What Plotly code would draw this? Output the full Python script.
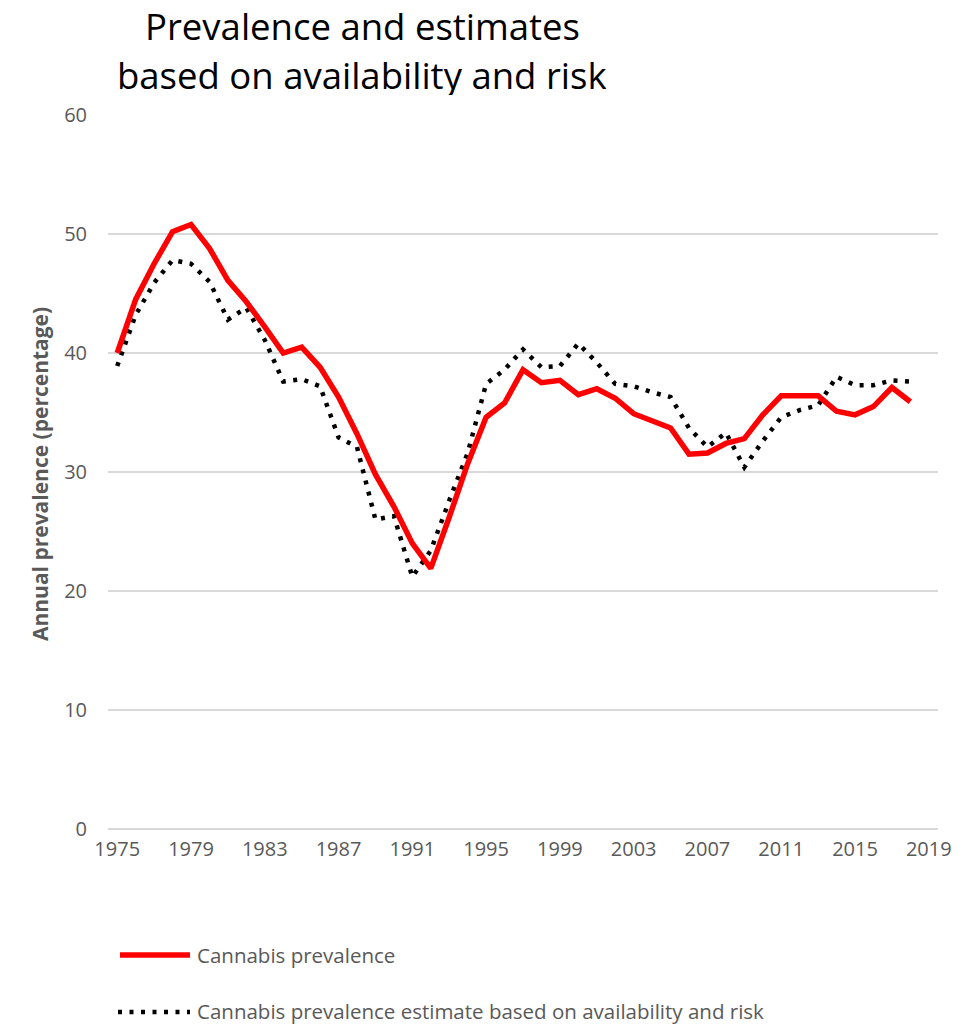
import plotly.graph_objects as go

years = list(range(1975, 2019))
prevalence = [40.0, 44.5, 47.5, 50.2, 50.8, 48.8, 46.1, 44.3, 42.2, 40.0,
              40.5, 38.8, 36.3, 33.2, 29.8, 27.1, 24.0, 21.9, 26.2, 30.7,
              34.6, 35.8, 38.6, 37.5, 37.7, 36.5, 37.0, 36.2, 34.9, 34.3,
              33.7, 31.5, 31.6, 32.4, 32.8, 34.8, 36.4, 36.4, 36.4, 35.1,
              34.8, 35.5, 37.1, 35.9]
estimate = [38.9, 43.2, 45.9, 47.8, 47.5, 46.0, 42.8, 43.8, 41.1, 37.6,
            37.8, 37.2, 32.9, 32.1, 26.0, 26.3, 21.2, 23.4, 27.6, 31.6,
            37.4, 38.6, 40.3, 38.8, 38.9, 40.8, 39.2, 37.4, 37.2, 36.7,
            36.3, 33.7, 32.1, 33.3, 30.4, 32.6, 34.6, 35.2, 35.6, 38.0,
            37.3, 37.3, 37.7, 37.6]
x_ticks = list(range(1975, 2020, 4))
y_ticks = [0, 10, 20, 30, 40, 50, 60]

FONT = "Open Sans"
GRAY = "#595959"

fig = go.Figure()
fig.add_trace(go.Scatter(x=years, y=estimate, mode="lines",
                         line=dict(color="black", width=4.5, dash="4px,7.5px"),
                         name="Cannabis prevalence estimate based on availability and risk",
                         showlegend=False))
fig.add_trace(go.Scatter(x=years, y=prevalence, mode="lines",
                         line=dict(color="#ff0000", width=5.5),
                         name="Cannabis prevalence", showlegend=False))

OFF = 8  # page body margin
W, H = 965 - OFF, 1024 - OFF
L, T = 108 - OFF, 115 - OFF
R = W - (938 - OFF)
B = H - (829 - OFF)
pw, ph = W - L - R, H - T - B

def px(x):
    return (x - OFF - L) / pw

def py(y):
    return (H - B - (y - OFF)) / ph

fig.update_layout(
    width=W, height=H,
    margin=dict(l=L, r=R, t=T, b=B, pad=0),
    paper_bgcolor="white", plot_bgcolor="white",
    font=dict(family=FONT, color=GRAY),
    xaxis=dict(range=[1974.5, 2019.5], tickmode="array", tickvals=x_ticks,
               ticktext=[str(t) for t in x_ticks], showgrid=False,
               showline=False, zeroline=False, ticks="", ticklabelstandoff=6,
               tickfont=dict(size=20, color=GRAY, family=FONT)),
    yaxis=dict(range=[0, 60], tickmode="array", tickvals=y_ticks,
               showgrid=True, gridcolor="#d9d9d9", gridwidth=1.5,
               zeroline=True, zerolinecolor="#d9d9d9", zerolinewidth=1.5,
               showline=False, ticks="", ticklabelstandoff=20,
               tickfont=dict(size=20, color=GRAY, family=FONT)),
)

annotations = [
    dict(text="Prevalence and estimates", x=px(362), y=py(26), xref="paper", yref="paper",
         showarrow=False, xanchor="center", yanchor="middle", height=36, valign="middle",
         font=dict(size=36.5, color="black", family=FONT)),
    dict(text="based on availability and risk", x=px(362), y=py(75), xref="paper", yref="paper",
         showarrow=False, xanchor="center", yanchor="middle", height=40, valign="middle",
         font=dict(size=36.5, color="black", family=FONT)),
    dict(text="<b>Annual prevalence (percentage)</b>", x=px(40), y=py(474),
         xref="paper", yref="paper", showarrow=False, textangle=-90,
         xanchor="center", yanchor="middle",
         font=dict(size=21, color=GRAY, family=FONT)),
    dict(text="Cannabis prevalence", x=px(195), y=py(955), xref="paper", yref="paper",
         showarrow=False, xanchor="left", yanchor="middle",
         font=dict(size=20.5, color=GRAY, family=FONT)),
    dict(text="Cannabis prevalence estimate based on availability and risk",
         x=px(195), y=py(1011), xref="paper", yref="paper",
         showarrow=False, xanchor="left", yanchor="middle", height=26, valign="middle",
         font=dict(size=20.5, color=GRAY, family=FONT)),
]
fig.update_layout(annotations=annotations)

fig.add_shape(type="line", xref="paper", yref="paper",
              x0=px(120), x1=px(190), y0=py(955), y1=py(955),
              line=dict(color="#ff0000", width=5.5))
fig.add_shape(type="line", xref="paper", yref="paper",
              x0=px(118), x1=px(190), y0=py(1012), y1=py(1012),
              line=dict(color="black", width=4.5, dash="4px,7.5px"))

fig.write_html("out.html")
